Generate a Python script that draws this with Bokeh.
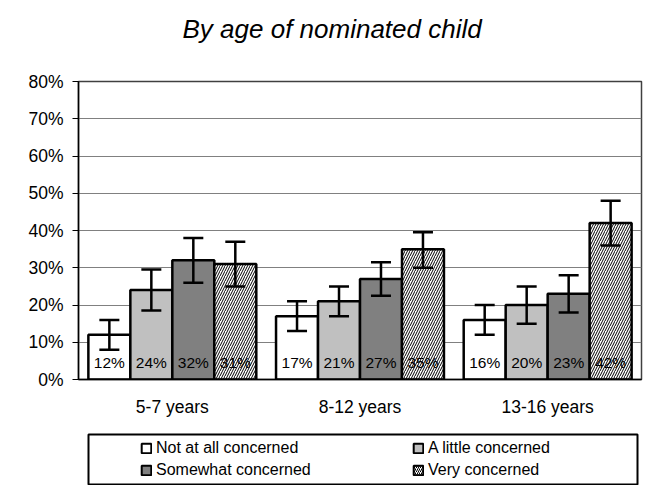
from bokeh.plotting import figure
from bokeh.models import (Range1d, FixedTicker, PrintfTickFormatter, ColumnDataSource,
                          Whisker, TeeHead, Legend, LegendItem)
from bokeh.layouts import column
from bokeh.core.properties import value
from bokeh.embed import file_html
from bokeh.resources import INLINE

# ---- data ----
title_text = "By age of nominated child"
categories = ["5-7 years", "8-12 years", "13-16 years"]
series_names = ["Not at all concerned", "A little concerned", "Somewhat concerned", "Very concerned"]
not_at_all = [12, 17, 16]
a_little = [24, 21, 20]
somewhat = [32, 27, 23]
very = [31, 35, 42]
not_at_all_low = [8, 13, 12]
not_at_all_high = [16, 21, 20]
a_little_low = [18.5, 17, 15]
a_little_high = [29.5, 25, 25]
somewhat_low = [26, 22.5, 18]
somewhat_high = [38, 31.5, 28]
very_low = [25, 30, 36]
very_high = [37, 39.5, 48]
y_ticks = [0, 10, 20, 30, 40, 50, 60, 70, 80]

FONT = "Liberation Sans"
fills = ["white", "#c0c0c0", "#808080", "white"]
hatches = [None, None, None, "/"]
values_all = [not_at_all, a_little, somewhat, very]
lows_all = [not_at_all_low, a_little_low, somewhat_low, very_low]
highs_all = [not_at_all_high, a_little_high, somewhat_high, very_high]

BAR_W = 0.2237
W = 645
TITLE_H = 46

# ---- title strip (pixel-mapped ranges, no axes) ----
tf = figure(width=W, height=TITLE_H, output_backend="svg", toolbar_location=None,
            x_range=Range1d(0, W), y_range=Range1d(0, TITLE_H),
            x_axis_location=None, y_axis_location=None, frame_align=False,
            min_border_left=0, min_border_right=0, min_border_top=0, min_border_bottom=0)
tf.grid.visible = False
tf.outline_line_color = None
tf.background_fill_color = "white"
tf.border_fill_color = "white"
tf.text(x=[182], y=[TITLE_H - 28], text=[title_text], text_align="left",
        text_baseline="alphabetic", text_font=value(FONT), text_font_size="26px",
        text_font_style="italic", text_color="black")

# ---- main chart ----
p = figure(width=W, height=433 - TITLE_H, output_backend="svg", toolbar_location=None,
           x_range=Range1d(0, len(categories)), y_range=Range1d(0, 80), frame_align=False,
           min_border_left=78, min_border_right=4, min_border_top=81 - TITLE_H,
           min_border_bottom=54)
p.background_fill_color = "white"
p.border_fill_color = "white"
p.outline_line_color = "#404040"
p.outline_line_width = 1.5

for j, (vals, lo, hi) in enumerate(zip(values_all, lows_all, highs_all)):
    xs = [i + 0.5 + (j - 1.5) * BAR_W for i in range(len(categories))]
    src = ColumnDataSource(dict(x=xs, top=vals, lower=lo, upper=hi,
                                zero=[0] * len(vals),
                                label=["%d%%" % v for v in vals]))
    kw = {}
    if hatches[j]:
        kw = dict(hatch_pattern=hatches[j], hatch_color="black", hatch_scale=5, hatch_weight=1)
    p.vbar(x="x", top="top", bottom=0, width=BAR_W, source=src, fill_color=fills[j],
           line_color="black", line_width=2.5, **kw)
    p.text(x="x", y="zero", text="label", source=src, text_align="center",
           text_baseline="middle", y_offset=-17, text_font=value(FONT),
           text_font_size="15.5px", text_color="black")
    p.add_layout(Whisker(source=src, base="x", upper="upper", lower="lower",
                         level="annotation",
                         line_color="black", line_width=2.5,
                         upper_head=TeeHead(size=20, line_width=2.5, line_color="black"),
                         lower_head=TeeHead(size=20, line_width=2.5, line_color="black")))

# axes
p.xaxis.ticker = FixedTicker(ticks=[i + 0.5 for i in range(len(categories))])
p.xaxis.major_label_overrides = {i + 0.5: c for i, c in enumerate(categories)}
p.xaxis.major_tick_line_color = None
p.xaxis.minor_tick_line_color = None
p.xaxis.major_label_standoff = 11
p.xaxis.axis_line_color = "black"
p.xaxis.axis_line_width = 1.5
p.xaxis.major_label_text_font = FONT
p.xaxis.major_label_text_font_size = "17.5px"
p.xaxis.major_label_text_color = "black"

p.yaxis.ticker = FixedTicker(ticks=y_ticks)
p.yaxis.formatter = PrintfTickFormatter(format="%d%%")
p.yaxis.major_tick_out = 6
p.yaxis.major_tick_in = 0
p.yaxis.minor_tick_line_color = None
p.yaxis.major_label_standoff = 9
p.yaxis.axis_line_color = "black"
p.yaxis.axis_line_width = 1.5
p.yaxis.major_tick_line_color = "black"
p.yaxis.major_label_text_font = FONT
p.yaxis.major_label_text_font_size = "17.5px"
p.yaxis.major_label_text_color = "black"

p.xgrid.visible = False
p.ygrid.ticker = FixedTicker(ticks=y_ticks)
p.ygrid.grid_line_color = "#808080"
p.ygrid.grid_line_width = 1

# ---- legend panel (boxed, below the chart) ----
lg = figure(width=W, height=52, output_backend="svg", toolbar_location=None,
            x_range=Range1d(0, 1), y_range=Range1d(0, 1),
            x_axis_location=None, y_axis_location=None, frame_align=False,
            min_border_left=88, min_border_right=8, min_border_top=1, min_border_bottom=1)
lg.grid.visible = False
lg.outline_line_color = "black"
lg.outline_line_width = 2
lg.background_fill_color = "white"
lg.border_fill_color = "white"
items = []
for j, name in enumerate(series_names):
    kw = {}
    if hatches[j]:
        kw = dict(hatch_pattern=hatches[j], hatch_color="black", hatch_scale=4, hatch_weight=1)
    # legend-only swatch renderer, kept outside the visible range
    r = lg.vbar(x=[-5], top=[0], width=0.1, fill_color=fills[j], line_color="black",
                line_width=2, **kw)
    items.append(LegendItem(label=name, renderers=[r]))
leg = Legend(items=items, orientation="horizontal", ncols=2, location=(52, 5),
             glyph_width=12, glyph_height=12, label_standoff=4, label_width=252,
             label_height=16, spacing=4, padding=0, margin=0,
             border_line_color=None, background_fill_alpha=0,
             label_text_font=FONT, label_text_font_size="16px", label_text_color="black")
lg.add_layout(leg, "center")

layout = column(tf, p, lg, spacing=0)
open("out.html", "w").write(file_html(layout, INLINE))
